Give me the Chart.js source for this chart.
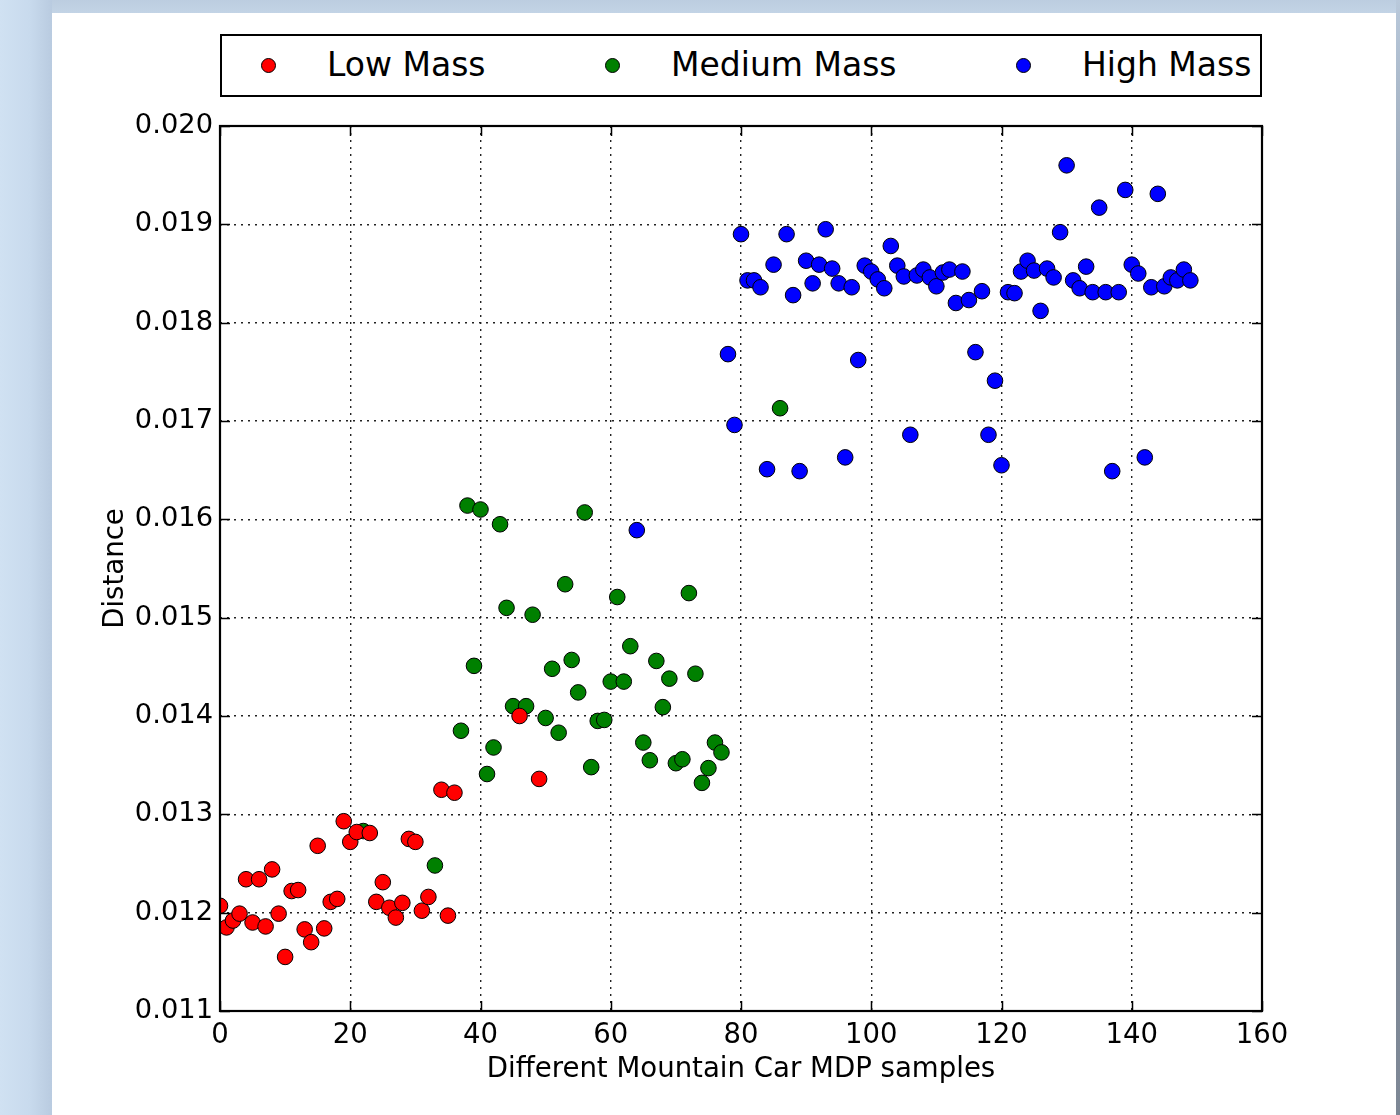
<!DOCTYPE html>
<html>
<head>
<meta charset="utf-8">
<script src="https://cdn.jsdelivr.net/npm/chart.js@4.4.1/dist/chart.umd.min.js"></script>
<style>
  html, body { margin: 0; padding: 0; }
  body {
    width: 1400px; height: 1115px; position: relative; overflow: hidden;
    background: linear-gradient(to bottom, #bccde0 0px, #c3d4e6 14px, #cddef0 60px, #cfe0f1 1115px);
    font-family: "DejaVu Sans", sans-serif;
  }
  #leftshade { position: absolute; left: 0; top: 0; width: 52px; height: 1115px;
    background: linear-gradient(to right, #d0e1f2 0px, #c8daed 30px, #b9cbe0 52px); }
  #rightshade { position: absolute; left: 1396px; top: 0; width: 4px; height: 1115px;
    background: linear-gradient(to bottom, #b9c9db 0px, #8a96a5 300px, #7d8795 1115px); }
  #panel { position: absolute; left: 52px; top: 13px; width: 1344px; height: 1102px; background: #ffffff; }
  #chart { position: absolute; left: 0; top: 0; }
  #legend { position: absolute; left: 220px; top: 34px; width: 1038px; height: 59px;
    border: 2px solid #000; background: #fff; }
  .mk { position: absolute; width: 15px; height: 15px; border-radius: 50%; border: 1px solid #000; box-sizing: border-box; top: 22px; }
  .lt { position: absolute; top: 8px; font-size: 33px; line-height: 42px; color: #000; white-space: nowrap; }
</style>
</head>
<body>
<div id="leftshade"></div>
<div id="rightshade"></div>
<div id="panel"></div>
<canvas id="chart" width="1400" height="1115"></canvas>
<div id="legend"></div>
<script>
// ---- Data ----
const seriesNames = ["Low Mass", "Medium Mass", "High Mass"];
const seriesColors = ["#ff0000", "#008000", "#0000ff"];

const lowX = [0,1,2,3,4,5,6,7,8,9,10,11,12,13,14,15,16,17,18,19,20,21,
              23,24,25,26,27,28,29,30,31,32,34,35,36,46,49];
const lowY = [0.01207,0.01185,0.01192,0.01199,0.01234,0.01190,0.01234,0.01186,0.01244,0.01199,
              0.01155,0.01222,0.01223,0.01183,0.01170,0.01268,0.01184,0.01211,0.01214,0.01293,
              0.01272,0.01282,
              0.01281,0.01211,0.01231,0.01205,0.01195,0.01210,0.01275,0.01272,0.01202,0.01216,
              0.01325,0.01197,0.01322,0.01400,0.01336];

const medX = [22,33,37,38,39,40,41,42,43,44,45,47,48,50,51,52,53,54,55,56,57,58,59,60,61,62,63,
              65,66,67,68,69,70,71,72,73,74,75,76,77,86];
const medY = [0.01283,0.01248,0.01385,0.01614,0.01451,0.01610,0.01341,0.01368,0.01595,0.01510,
              0.01410,0.01410,0.01503,0.01398,0.01448,0.01383,0.01534,0.01457,0.01424,0.01607,
              0.01348,0.01395,0.01396,0.01435,0.01521,0.01435,0.01471,
              0.01373,0.01355,0.01456,0.01409,0.01438,0.01352,0.01356,0.01525,0.01443,0.01332,
              0.01347,0.01373,0.01363,0.01713];

const highX = [64,78,79,80,81,82,83,84,85,87,88,89,90,91,92,93,94,95,96,97,98,99,
               100,101,102,103,104,105,106,107,108,109,110,111,112,113,114,115,116,117,118,119,
               120,121,122,123,124,125,126,127,128,129,130,131,132,133,134,135,136,137,138,139,
               140,141,142,143,144,145,146,147,148,149];
const highY = [0.01589,0.01768,0.01696,0.01890,0.01843,0.01843,0.01836,0.01651,0.01859,0.01890,
               0.01828,0.01649,0.01863,0.01840,0.01859,0.01895,0.01855,0.01840,0.01663,0.01836,
               0.01762,0.01858,
               0.01852,0.01844,0.01835,0.01878,0.01858,0.01847,0.01686,0.01848,0.01854,0.01846,
               0.01837,0.01851,0.01854,0.01820,0.01852,0.01823,0.01770,0.01832,0.01686,0.01741,
               0.01655,0.01831,0.01830,0.01852,0.01863,0.01853,0.01812,0.01855,0.01846,0.01892,
               0.01960,0.01843,0.01835,0.01857,0.01831,0.01917,0.01831,0.01649,0.01831,0.01935,
               0.01859,0.01850,0.01663,0.01836,0.01931,0.01837,0.01846,0.01843,0.01854,0.01843];

const xTicks = [0,20,40,60,80,100,120,140,160];
const yTicks = [0.011,0.012,0.013,0.014,0.015,0.016,0.017,0.018,0.019,0.020];
const xTitle = "Different Mountain Car MDP samples";
const yTitle = "Distance";

// ---- Build ----
function pts(xs, ys) { return xs.map((x, i) => ({ x: x, y: ys[i] })); }
const allX = [lowX, medX, highX];
const allY = [lowY, medY, highY];

const FONT = "'DejaVu Sans', sans-serif";

const frameAndTicks = {
  id: 'frameAndTicks',
  afterDatasetsDraw(chart) {
    const { ctx, chartArea: a, scales: { x, y } } = chart;
    ctx.save();
    ctx.strokeStyle = '#000';
    ctx.lineWidth = 1.5;
    ctx.beginPath();
    xTicks.forEach(v => {
      const px = Math.round(x.getPixelForValue(v)) + 0.5;
      ctx.moveTo(px, a.bottom); ctx.lineTo(px, a.bottom - 10);
      ctx.moveTo(px, a.top); ctx.lineTo(px, a.top + 10);
    });
    yTicks.forEach(v => {
      const py = Math.round(y.getPixelForValue(v)) + 0.5;
      ctx.moveTo(a.left, py); ctx.lineTo(a.left + 10, py);
      ctx.moveTo(a.right, py); ctx.lineTo(a.right - 10, py);
    });
    ctx.stroke();
    ctx.lineWidth = 2.2;
    ctx.strokeRect(a.left, a.top, a.right - a.left, a.bottom - a.top);
    ctx.restore();
  }
};

new Chart(document.getElementById('chart'), {
  type: 'scatter',
  data: {
    datasets: seriesNames.map((n, i) => ({
      label: n,
      data: pts(allX[i], allY[i]),
      backgroundColor: seriesColors[i],
      borderColor: '#000',
      borderWidth: 1,
      pointRadius: 7.8,
      pointHoverRadius: 7.8,
      clip: 0
    }))
  },
  options: {
    responsive: false,
    animation: false,
    devicePixelRatio: 1,
    events: [],
    layout: { padding: { top: 126, right: 138, left: 0, bottom: 0 } },
    plugins: { legend: { display: false }, tooltip: { enabled: false } },
    scales: {
      x: {
        type: 'linear', min: 0, max: 160,
        afterFit(s) { s.height = 104; },
        afterBuildTicks(s) { s.ticks = xTicks.map(v => ({ value: v })); },
        ticks: { color: '#000', font: { family: FONT, size: 27.5 }, padding: 8, maxRotation: 0,
                 callback: v => String(v) },
        grid: { color: '#222', lineWidth: 1.4, drawTicks: false },
        border: { display: false, dash: [2, 5] },
        title: { display: true, text: xTitle, color: '#000', font: { family: FONT, size: 27.6 },
                 padding: { top: 0, bottom: 29 } }
      },
      y: {
        type: 'linear', min: 0.011, max: 0.020,
        afterFit(s) { s.width = 220; },
        afterBuildTicks(s) { s.ticks = yTicks.map(v => ({ value: v })); },
        ticks: { color: '#000', font: { family: FONT, size: 27.3 }, padding: 7,
                 callback: v => Number(v).toFixed(3) },
        grid: { color: '#222', lineWidth: 1.4, drawTicks: false },
        border: { display: false, dash: [2, 5] },
        title: { display: true, text: yTitle, color: '#000', font: { family: FONT, size: 27.6 },
                 padding: { top: 99, bottom: 0 } }
      }
    }
  },
  plugins: [frameAndTicks]
});

// ---- HTML legend ----
const leg = document.getElementById('legend');
const mkLeft = [46 - 7.5, 390 - 7.5, 801 - 7.5];   // marker centres relative to box
const txLeft = [105, 449, 860];
seriesNames.forEach((n, i) => {
  const m = document.createElement('div');
  m.className = 'mk'; m.style.left = mkLeft[i] + 'px'; m.style.background = seriesColors[i];
  leg.appendChild(m);
  const t = document.createElement('div');
  t.className = 'lt'; t.style.left = txLeft[i] + 'px'; t.textContent = n;
  leg.appendChild(t);
});
</script>
</body>
</html>
